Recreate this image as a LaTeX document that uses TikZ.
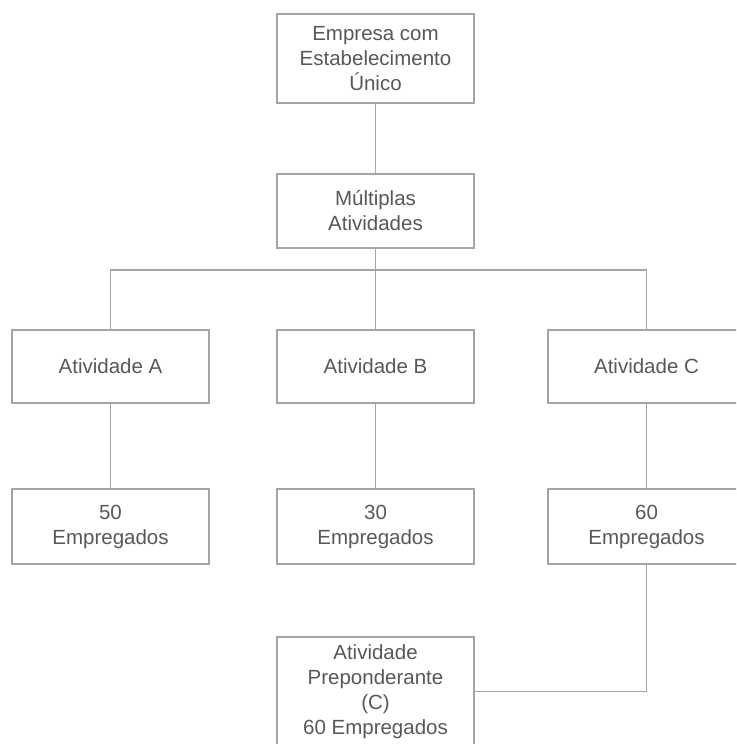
\documentclass[tikz,border=0pt]{standalone}
\usepackage{fontspec}
\setmainfont{Liberation Sans}
\usepackage{tikz}
\definecolor{linha}{RGB}{165,165,168}
\definecolor{texto}{RGB}{88,88,92}
\tikzset{
	caixa/.style    = {draw = linha, line width = 1.5pt, rectangle, inner sep = 0pt,
		minimum width = 197pt, align = center, text = texto,
		font = \fontsize{20.5}{25}\selectfont},
	juncao/.style   = {coordinate} % Junction
}

\begin{document}
\begin{tikzpicture}[x=1pt, y=-1pt, line width=1.5pt, draw=linha]
	\useasboundingbox (0,0) rectangle (736,744);
	\clip (0,0) rectangle (736,744);
	\draw
	% Drawing the upper blocks
	node at (375.5,58.5)[caixa, minimum height = 89pt] (emp) {Empresa com\\Estabelecimento\\Único}
	node at (375.5,211)[caixa, minimum height = 74pt] (mult) {Múltiplas\\Atividades}
	% Activities
	node at (110.5,366.5)[caixa, minimum height = 73pt] (ativA) {Atividade A}
	node at (375.5,366.5)[caixa, minimum height = 73pt] (ativB) {Atividade B}
	node at (646.5,366.5)[caixa, minimum height = 73pt] (ativC) {Atividade C}
	% Employees
	node at (110.5,526.5)[caixa, minimum height = 75pt] (empA) {50\\Empregados}
	node at (375.5,526.5)[caixa, minimum height = 75pt] (empB) {30\\Empregados}
	node at (646.5,526.5)[caixa, minimum height = 75pt] (empC) {60\\Empregados}
	node at (375.5,691.5)[caixa, minimum height = 109pt] (prep) {Atividade\\Preponderante\\(C)\\60 Empregados}
	node at (375.5,270)[juncao] (j) {};
	
	\draw[-](emp) -- (mult);
	\draw[-](mult) -- (ativB);
	\draw[-](ativA) |- (j) -| (ativC);
	\draw[-](ativA) -- (empA);
	\draw[-](ativB) -- (empB);
	\draw[-](ativC) -- (empC);
	\draw[-](empC) |- (prep);
	
\end{tikzpicture}
\end{document}
